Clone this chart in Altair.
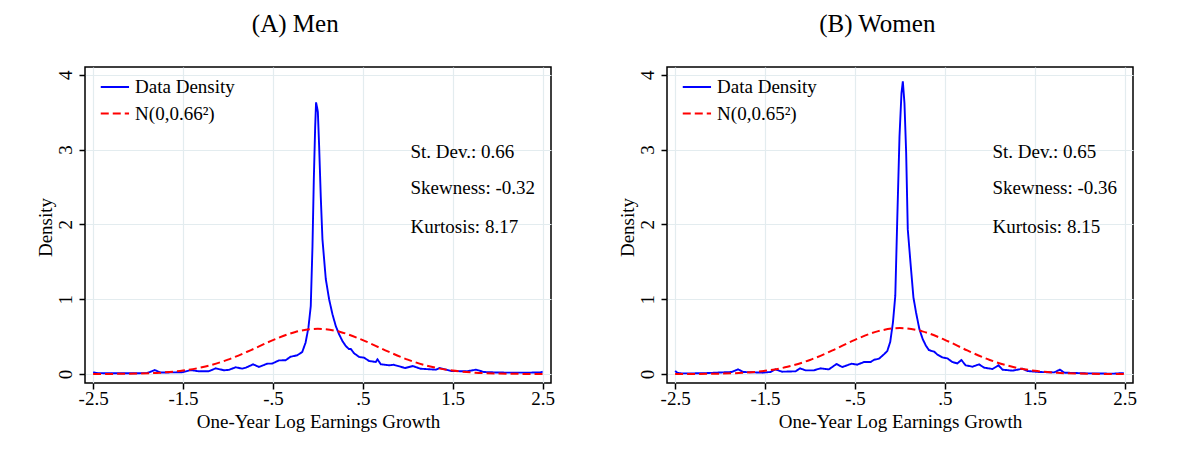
import altair as alt
import pandas as pd

# ---------------- data ----------------
PANEL_TITLES = ["(A) Men", "(B) Women"]
DATA_LABEL = "Data Density"
NORM_LABELS = ["N(0,0.66²)", "N(0,0.65²)"]

MEN_X = [-2.5, -2.45, -2.3, -2.1, -1.9, -1.815, -1.75, -1.6, -1.5, -1.415, -1.32, -1.21,
         -1.137, -1.044, -0.99, -0.915, -0.84, -0.8, -0.72, -0.656, -0.6, -0.563, -0.507,
         -0.433, -0.359, -0.304, -0.23, -0.174, -0.137, -0.105, -0.079, -0.06, -0.045,
         -0.03, -0.02, -0.008, 0.0, 0.014, 0.032, 0.051, 0.088, 0.125, 0.162, 0.199,
         0.236, 0.273, 0.31, 0.345, 0.366, 0.403, 0.459, 0.514, 0.57, 0.644, 0.663, 0.7,
         0.793, 0.842, 0.97, 1.056, 1.141, 1.312, 1.355, 1.483, 1.654, 1.76, 1.846, 2.0,
         2.21, 2.466, 2.5]
MEN_Y = [0.022, 0.012, 0.01, 0.01, 0.012, 0.053, 0.02, 0.022, 0.025, 0.053, 0.036, 0.038,
         0.076, 0.05, 0.055, 0.09, 0.072, 0.085, 0.129, 0.095, 0.12, 0.138, 0.14,
         0.182, 0.184, 0.231, 0.25, 0.294, 0.418, 0.62, 0.909, 1.7, 2.6,
         3.3, 3.63, 3.56, 3.5, 3.05, 2.38, 1.8, 1.27, 1.0, 0.8, 0.642,
         0.531, 0.442, 0.375, 0.335, 0.335, 0.277, 0.228, 0.219, 0.174, 0.161, 0.196, 0.13,
         0.117, 0.124, 0.08, 0.107, 0.071, 0.058, 0.08, 0.04, 0.036, 0.058, 0.027, 0.02,
         0.018, 0.02, 0.03]

WOMEN_X = [-2.5, -2.47, -2.43, -2.2, -1.87, -1.8, -1.74, -1.53, -1.44, -1.385, -1.31, -1.16,
           -1.11, -1.05, -0.957, -0.883, -0.79, -0.704, -0.641, -0.537, -0.474, -0.4, -0.325,
           -0.288, -0.232, -0.177, -0.14, -0.107, -0.077, -0.051, -0.029, -0.004, 0.018,
           0.033, 0.051, 0.07, 0.088, 0.118, 0.151, 0.18, 0.217, 0.254, 0.29, 0.323, 0.346,
           0.382, 0.419, 0.474, 0.529, 0.584, 0.64, 0.684, 0.732, 0.807, 0.881, 0.937, 1.03,
           1.097, 1.141, 1.253, 1.364, 1.42, 1.55, 1.717, 1.78, 1.83, 2.07, 2.37, 2.49]
WOMEN_Y = [0.04, 0.015, 0.008, 0.01, 0.027, 0.062, 0.027, 0.018, 0.027, 0.062, 0.031, 0.036,
           0.076, 0.049, 0.049, 0.076, 0.062, 0.134, 0.093, 0.138, 0.125, 0.16, 0.16,
           0.19, 0.205, 0.263, 0.307, 0.43, 0.689, 1.044, 2.067, 3.178, 3.756,
           3.911, 3.622, 2.956, 1.933, 1.489, 1.022, 0.822, 0.6, 0.467, 0.378, 0.32, 0.311,
           0.298, 0.258, 0.222, 0.209, 0.16, 0.142, 0.187, 0.116, 0.098, 0.129, 0.085, 0.067,
           0.116, 0.058, 0.045, 0.071, 0.04, 0.027, 0.022, 0.058, 0.018, 0.009, 0.005, 0.013]

NORM_X = [-2.5, -2.25, -2.0, -1.75, -1.5, -1.25, -1.0, -0.75, -0.5, -0.25, 0.0,
          0.25, 0.5, 0.75, 1.0, 1.25, 1.5, 1.75, 2.0, 2.25, 2.5]
MEN_NORM_Y = [0.0005, 0.0018, 0.0061, 0.018, 0.0457, 0.1005, 0.192, 0.317, 0.453, 0.562, 0.604,
              0.562, 0.453, 0.317, 0.192, 0.1005, 0.0457, 0.018, 0.0061, 0.0018, 0.0005]
WOMEN_NORM_Y = [0.0004, 0.0015, 0.0054, 0.0164, 0.0428, 0.0966, 0.188, 0.315, 0.457, 0.570, 0.614,
                0.570, 0.457, 0.315, 0.188, 0.0966, 0.0428, 0.0164, 0.0054, 0.0015, 0.0004]

STATS = [["St. Dev.: 0.66", "Skewness: -0.32", "Kurtosis: 8.17"],
         ["St. Dev.: 0.65", "Skewness: -0.36", "Kurtosis: 8.15"]]
STAT_X = 1.03
STAT_Y = [2.89, 2.40, 1.89]

X_TICKS = [-2.5, -1.5, -0.5, 0.5, 1.5, 2.5]
X_TICK_LABELS = ["-2.5", "-1.5", "-.5", ".5", "1.5", "2.5"]
Y_TICKS = [0, 1, 2, 3, 4]
X_DOMAIN = [-2.59, 2.593]
Y_DOMAIN = [-0.12, 4.103]

# ---------------- styling ----------------
FONT = "Liberation Serif"
FS = 19
GRID = "#e3ecef"
W, H = 466, 316

label_expr = " : ".join(
    f"datum.value == {v} ? '{t}'" for v, t in zip(X_TICKS, X_TICK_LABELS)
) + " : ''"


def panel(i, xs, ys, norm_ys):
    domain = [DATA_LABEL, NORM_LABELS[i]]
    dens = pd.DataFrame({"x": xs, "y": ys, "series": DATA_LABEL})
    norm = pd.DataFrame({"x": NORM_X, "y": norm_ys, "series": NORM_LABELS[i]})
    stats = pd.DataFrame({"x": [STAT_X] * 3, "y": STAT_Y, "t": STATS[i]})

    leg = alt.Legend(title=None, orient="none", legendX=14.4, legendY=4.4,
                     direction="vertical", symbolType="stroke", symbolSize=800,
                     symbolStrokeWidth=2, labelFont=FONT, labelFontSize=FS,
                     labelColor="black", labelOffset=4.7, rowPadding=0.7, padding=0)

    xenc = alt.X("x:Q", scale=alt.Scale(domain=X_DOMAIN, nice=False, zero=False),
                 axis=alt.Axis(values=X_TICKS, labelExpr=label_expr,
                               title="One-Year Log Earnings Growth",
                               grid=True, gridColor=GRID, gridWidth=1.2,
                               domain=False, ticks=True, tickSize=6, tickColor="black",
                               tickWidth=1.5, labelFont=FONT, labelFontSize=FS,
                               labelColor="black", labelPadding=15.3,
                               labelBaseline="alphabetic", labelOverlap=False,
                               labelFlush=False, titleFont=FONT, titleFontSize=FS,
                               titleFontWeight="normal", titleColor="black",
                               titleBaseline="alphabetic", titleX=W / 2, titleY=44.3))
    yenc = alt.Y("y:Q", scale=alt.Scale(domain=Y_DOMAIN, nice=False, zero=False),
                 axis=alt.Axis(values=Y_TICKS, format="d", title="Density",
                               grid=True, gridColor=GRID, gridWidth=1.2,
                               domain=False, tickSize=6, tickColor="black", tickWidth=1.5,
                               labelFont=FONT, labelFontSize=FS, labelColor="black",
                               labelAngle=270, labelAlign="center",
                               labelBaseline="alphabetic", labelPadding=8,
                               titleFont=FONT, titleFontSize=FS, titleFontWeight="normal",
                               titleColor="black", titleAngle=270, titleAlign="center",
                               titleBaseline="alphabetic", titleX=-34, titleY=160))
    color = alt.Color("series:N", scale=alt.Scale(domain=domain, range=["#0000ff", "#ff0000"]),
                      legend=leg)
    dash = alt.StrokeDash("series:N", scale=alt.Scale(domain=domain, range=[[1, 0], [8, 4]]),
                          legend=leg)

    blue = alt.Chart(dens).mark_line(strokeWidth=1.9, interpolate="linear").encode(
        x=xenc, y=yenc, color=color, strokeDash=dash)
    red = alt.Chart(norm).mark_line(strokeWidth=2, interpolate="monotone").encode(
        x=xenc, y=yenc, color=color, strokeDash=dash)
    txt = alt.Chart(stats).mark_text(align="left", baseline="alphabetic", font=FONT,
                                     fontSize=FS, color="black").encode(
        x=alt.X("x:Q"), y=alt.Y("y:Q"), text="t:N")

    return alt.layer(blue, red, txt).properties(
        width=W, height=H,
        title=alt.TitleParams(PANEL_TITLES[i], font=FONT, fontSize=25, fontWeight="normal",
                              color="black", frame="bounds", anchor="middle",
                              baseline="alphabetic", offset=10))


left = panel(0, MEN_X, MEN_Y, MEN_NORM_Y)
right = panel(1, WOMEN_X, WOMEN_Y, WOMEN_NORM_Y)

chart = alt.hconcat(left, right, spacing=61).resolve_scale(
    color="independent", strokeDash="independent"
).resolve_legend(
    color="independent", strokeDash="independent"
).properties(
    padding={"left": 27, "top": 3, "right": 5, "bottom": 5},
    background="white",
).configure_view(stroke="black", strokeWidth=1.5)

chart.save("out.html", embed_options={"renderer": "svg", "actions": False})
